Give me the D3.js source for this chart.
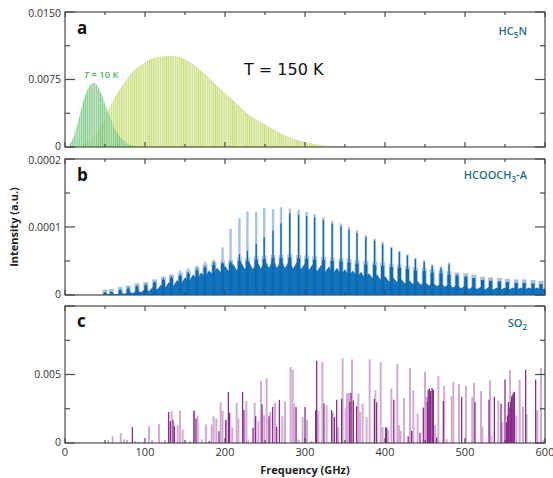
<!DOCTYPE html>
<html>
<head>
<meta charset="utf-8">
<script src="https://cdn.jsdelivr.net/npm/d3@7"></script>
<style>
body { margin: 0; background: #fff; }
text { font-family: "Open Sans", sans-serif; }
</style>
</head>
<body>
<div id="chart"></div>
<script>
// ---- data ----
// panel a: HC5N envelopes (intensity x 1e-3)
const hc150Freq = [20,30,40,50,60,70,80,90,100,110,120,130,140,150,160,170,180,190,200,210,220,230,240,250,260,270,280,290,300,310,320,330,340,350,360,370,380];
const hc150Val  = [0.2,0.7,1.7,3.3,5.1,6.6,7.9,8.8,9.4,9.85,10.05,10.15,10.05,9.75,9.2,8.5,7.7,6.8,6.0,5.2,4.4,3.6,3.0,2.5,2.0,1.5,1.1,0.8,0.55,0.35,0.22,0.14,0.08,0.04,0.02,0.01,0];
const hc10Freq = [5,10,15,20,25,30,35,40,45,50,55,60,65,70,75,80,85,90,95];
const hc10Val  = [0.2,1.0,2.4,4.1,5.7,6.7,7.15,6.9,6.0,4.8,3.6,2.5,1.6,1.0,0.6,0.3,0.15,0.06,0];

// panel b: HCOOCH3-A (intensity x 1e-6)
const baseFreq = [45,50,55,60,65,70,75,80,85,90,95,100,105,110,115,120,125,130,135,140,145,150,155,160,165,170,175,180,185,190,195,200,205,210,215,220,225,230,235,240,245,250,255,260,265,270,275,280,285,290,295,300,305,310,315,320,325,330,335,340,345,350,355,360,365,370,375,380,385,390,395,400,405,410,415,420,425,430,435,440,445,450,455,460,465,470,475,480,485,490,495,500,505,510,515,520,525,530,535,540,545,550,555,560,565,570,575,580,585,590,595,600];
const baseVal  = [0,1,1,2,1,3,2,5,3,7,
	4,9,6,12,8,15,11,19,13,22,
	16,26,20,30,23,33,27,36,30,40,
	33,43,35,46,36,48,38,49,38,50,
	39,51,40,52,40,51,40,50,39,49,
	38,47,37,46,35,44,34,42,32,40,
	30,38,29,36,27,34,25,32,24,30,
	22,28,20,26,19,24,17,22,16,21,
	15,19,14,18,13,17,12,16,11,15,
	10,14,9,13,9,12,8,12,8,11,
	8,11,8,11,8,11,8,11,8,11,
	8,10];
const combFreq    = [50,58,69,79,90,101,112,123,133,144,154,165,175,186,197,207,218,228,239,249,260,270,281,292,302,312,323,334,345,355,365,376,387,397,408,418,428,438,449,459,470,480,490,501,511,522,532,543,553,564,574,585,595];
const combPeak    = [4,6,9,12,17,18,22,26,30,36,39,43,49,52,70,97,113,123,122,128,126,129,127,125,122,119,114,109,105,100,95,88,83,78,71,65,60,55,51,45,42,48,32,29,24,21,20,18,18,17,18,18,18];
const combDark    = [3,5,8,11,14,16,20,24,28,30,34,39,43,49,48,50,60,65,75,85,95,105,120,118,116,114,110,105,101,96,91,85,80,75,69,63,58,53,49,43,40,45,30,27,22,19,18,16,16,15,16,16,16];
const combCluster = [3,4,7,9,12,14,18,22,25,28,31,36,40,44,46,47,50,50,52,53,54,54,55,54,53,52,51,50,49,48,46,45,44,43,41,40,38,36,35,33,32,30,28,27,25,22,21,20,19,18,18,17,16];

// panel c: SO2 (intensity x 1e-4)
const soLightFreq = [54,59.6,69.6,73.7,77.5,87.5,91.7,98,105,109,117.5,125,133.3,140.8,143.7,147,156,161.5,165.8,171,176,183.3,185.8,189.2,194.6,197,201,209,214.6,216.7,226.7,229,237,241.7,245,249,252,256.7,262.5,271.7,275,282,284.6,286.3,292,297,302.5,308,316.7,321.7,327,334.6,341.5,347,350.8,352.5,355,358.8,366.7,368.8,372,377,380.8,388,394.6,397,404,408,415.4,417.5,419.6,423.7,431.3,435.4,440.8,450,452.5,462.5,466.7,474,477,483.3,485.4,492.5,501.3,509,511.3,520,521.7,531.3,533,541.7,546.7,556.3,564,568.3,572.5,577,590.4,595,598];
const soLightVal  = [2,4.9,7.3,2.7,2.2,1.5,1,1,12.2,2.2,13.6,2.2,23.4,12.9,23.4,10,1.5,24,20,2.7,13.6,13.6,19.4,17.8,29.8,23.4,16.5,11.5,29.3,17.8,30.7,2,29.3,15.8,45.4,20.3,47.3,22.6,29.8,19.5,30.3,55.5,53.5,28.8,2.5,19,17,1.5,23.4,59.2,27.6,22,11.5,61.7,25.3,36.2,36.6,61,36.2,22.6,28.8,19,61,38.6,59.2,11.5,9.7,39.8,57.6,13,8.9,33,54.6,38.6,21.5,52,33.7,13,48.8,41.8,3,34.2,44.7,43,41.8,33.7,44.1,38,12,45.8,5,31,15.4,53.3,20,46.3,26.8,21,24,55,2];
const soDarkFreq  = [84.2,129.6,131.7,135,136.7,161.2,163.7,180.4,192.5,201,204.2,205.8,222,223.7,235,238.3,246.3,255,259.6,264.6,268,288.8,300,313.3,314.6,323.7,333.3,336.7,339.6,345.8,356,357.5,360.4,364.6,386.7,389.6,400.8,402,411,429,433.3,443.8,447.9,453,454,455.4,456,457,458.8,459.5,460.4,464.6,472.9,495.8,512.5,530,536.7,545,550,552,553,554.2,556,557,558.3,559,560.4,561.7,575.8,588.3];
const soDarkVal   = [11.7,22.6,16,17,12.2,23.4,17.8,1.5,8.5,17,37.3,22,37.3,24,11.2,19.5,28.3,19.5,26.3,12,31.5,26.3,26.3,24,60,28.8,24,19,31.5,32.2,30,36.6,31,26.8,32.2,29.8,11.5,11.2,31.5,5,8.9,7.4,26,30,38.6,39.8,36,38,40,39,38.6,4,30.7,33.7,29.8,31.5,33.7,28.8,46.3,15,20,29.8,26,30,33.7,35,36.6,37.3,53.5,46.3];

// axes
const xTicks = [0,100,200,300,400,500,600];
const xMinor = [50,150,250,350,450,550];
const panelA = { top: 12,  bottom: 147, max: 15,  ticks: [0,7.5,15],  minor: [3.75,11.25], labels: ["0","0.0075","0.0150"] };
const panelB = { top: 159, bottom: 295, max: 200, ticks: [0,100,200], minor: [50,150],     labels: ["0","0.0001","0.0002"] };
const panelC = { top: 306, bottom: 443, max: 100, ticks: [0,50,100],  minor: [25,75],      labels: ["0","0.005",""] };

const W = 553, H = 478;
const frameColor = "#4a4a4a";

const svg = d3.select('#chart').append('svg')
	.attr('width', W)
	.attr('height', H);

const x = d3.scaleLinear().domain([0,600]).range([65,545]);

function yFor(p){
	return d3.scaleLinear().domain([0,p.max]).range([p.bottom,p.top]);
}

// stick patterns for the HC5N line forests
const defs = svg.append('defs');
function stickPattern(id, bg, line){
	const pat = defs.append('pattern')
		.attr('id', id)
		.attr('patternUnits','userSpaceOnUse')
		.attr('width', 2.13)
		.attr('height', 4);
	pat.append('rect').attr('width',2.13).attr('height',4).attr('fill',bg);
	pat.append('rect').attr('width',0.9).attr('height',4).attr('fill',line);
}
stickPattern('hc150', '#e7f0c2', '#c8dd78');
stickPattern('hc10', '#badfbb', '#5cc06a');

// ---- panel a ----
const yA = yFor(panelA);
const areaA = d3.area()
	.x(d => x(d[0]))
	.y0(panelA.bottom)
	.y1(d => yA(d[1]))
	.curve(d3.curveMonotoneX);

svg.append('path')
	.datum(d3.zip(hc150Freq, hc150Val))
	.attr('d', areaA)
	.attr('fill', 'url(#hc150)');

svg.append('path')
	.datum(d3.zip(hc10Freq, hc10Val))
	.attr('d', areaA)
	.attr('fill', 'url(#hc10)')
	.attr('opacity', 0.8);

// ---- panel b ----
const yB = yFor(panelB);
const gB = svg.append('g');
const combs = combFreq.map((f,i) => ({f, peak: combPeak[i], dark: combDark[i], cl: combCluster[i]}));

function sticks(g, cls, data, val, color, width){
	g.selectAll('.' + cls)
		.data(data)
		.enter().append('line')
		.attr('class', cls)
		.attr('x1', d => x(d.f)).attr('x2', d => x(d.f))
		.attr('y1', panelB.bottom).attr('y2', d => yB(val(d)))
		.attr('stroke', color)
		.attr('stroke-width', width);
}

sticks(gB, 'peak-light', combs, d => d.peak, '#a6c3e6', 2.4);
sticks(gB, 'cluster-light', combs, d => d.cl + 5, '#a6c3e6', 5);

gB.append('path')
	.datum(d3.zip(baseFreq, baseVal))
	.attr('d', d3.area().x(d => x(d[0])).y0(panelB.bottom).y1(d => yB(d[1])))
	.attr('fill', '#1573bb');

sticks(gB, 'cluster', combs, d => d.cl, '#0c6cb5', 3.2);
sticks(gB, 'peak-dark', combs, d => d.dark, '#0a69b2', 1.3);

// ---- panel c ----
const yC = yFor(panelC);
const gC = svg.append('g');
gC.selectAll('.so-light')
	.data(d3.zip(soLightFreq, soLightVal))
	.enter().append('line')
	.attr('class','so-light')
	.attr('x1', d => x(d[0])).attr('x2', d => x(d[0]))
	.attr('y1', panelC.bottom).attr('y2', d => yC(d[1]))
	.attr('stroke', '#d4aad4')
	.attr('stroke-width', 2);

gC.selectAll('.so-dark')
	.data(d3.zip(soDarkFreq, soDarkVal))
	.enter().append('line')
	.attr('class','so-dark')
	.attr('x1', d => x(d[0])).attr('x2', d => x(d[0]))
	.attr('y1', panelC.bottom).attr('y2', d => yC(d[1]))
	.attr('stroke', '#8c2a8e')
	.attr('stroke-width', 1.3);

// ---- frames and ticks ----
function frame(p){
	const y = yFor(p);
	const g = svg.append('g');
	g.append('rect')
		.attr('x', x(0)).attr('y', p.top)
		.attr('width', x(600) - x(0)).attr('height', p.bottom - p.top)
		.attr('fill','none').attr('stroke', frameColor).attr('stroke-width', 1.2);

	const xt = xTicks.map(v => ({v, len: 5})).concat(xMinor.map(v => ({v, len: 3})));
	g.selectAll('.xt-top').data(xt).enter().append('line')
		.attr('x1', d => x(d.v)).attr('x2', d => x(d.v))
		.attr('y1', p.top).attr('y2', d => p.top + d.len);
	g.selectAll('.xt-bot').data(xt).enter().append('line')
		.attr('x1', d => x(d.v)).attr('x2', d => x(d.v))
		.attr('y1', p.bottom).attr('y2', d => p.bottom - d.len);

	const yt = p.ticks.map(v => ({v, len: 10})).concat(p.minor.map(v => ({v, len: 5})));
	g.selectAll('.yt-l').data(yt).enter().append('line')
		.attr('x1', x(0)).attr('x2', d => x(0) + d.len)
		.attr('y1', d => y(d.v)).attr('y2', d => y(d.v));
	g.selectAll('.yt-r').data(yt).enter().append('line')
		.attr('x1', x(600)).attr('x2', d => x(600) - d.len)
		.attr('y1', d => y(d.v)).attr('y2', d => y(d.v));
	g.selectAll('line').attr('stroke', frameColor).attr('stroke-width', 1.2);

	// nudge the end labels inward a little so neighbouring panels don't collide
	const last = p.ticks.length - 1;
	g.selectAll('.ylab').data(p.ticks).enter().append('text')
		.attr('x', 61)
		.attr('y', (d,i) => y(d) + (i === 0 ? -1 : i === last ? 1.5 : 0))
		.attr('dy', '0.35em')
		.attr('text-anchor','end')
		.attr('font-size', 10.5)
		.attr('fill', '#333')
		.text((d,i) => p.labels[i]);
}
[panelA, panelB, panelC].forEach(frame);

// x tick labels
svg.selectAll('.xlab').data(xTicks).enter().append('text')
	.attr('x', d => x(d))
	.attr('y', 456)
	.attr('text-anchor','middle')
	.attr('font-size', 11)
	.attr('fill', '#333')
	.text(d => d);

svg.append('text')
	.attr('x', 305).attr('y', 474)
	.attr('text-anchor','middle')
	.attr('font-size', 11).attr('font-weight', 700).attr('fill', '#222')
	.text('Frequency (GHz)');

svg.append('text')
	.attr('transform', 'translate(18,227) rotate(-90)')
	.attr('text-anchor','middle')
	.attr('font-size', 11).attr('font-weight', 700).attr('fill', '#222')
	.text('Intensity (a.u.)');

// panel letters
[['a',34],['b',181],['c',327]].forEach(([t,yy]) => {
	svg.append('text')
		.attr('x', 77).attr('y', yy)
		.attr('font-size', 17).attr('font-weight', 700).attr('fill', '#111')
		.text(t);
});

// molecule labels
const teal = '#1d6f80';
function molecule(yy, parts){
	const t = svg.append('text')
		.attr('x', 527).attr('y', yy)
		.attr('text-anchor','end')
		.attr('font-size', 11).attr('font-weight', 600).attr('fill', teal);
	parts.forEach(([s, sub], i) => {
		t.append('tspan')
			.attr('dy', sub ? 3 : (i > 0 ? -3 : 0))
			.attr('font-size', sub ? 8 : 11)
			.text(s);
	});
}
molecule(35, [['HC',0],['5',1],['N',0]]);
molecule(179, [['HCOOCH',0],['3',1],['-A',0]]);
molecule(327, [['SO',0],['2',1]]);

// temperature labels
svg.append('text')
	.attr('x', 244).attr('y', 75)
	.style('font-family', '"DejaVu Sans", sans-serif')
	.attr('font-size', 16).attr('fill', '#111')
	.text('T = 150 K');

const t10 = svg.append('text')
	.attr('x', 84).attr('y', 78)
	.attr('font-size', 9.5).attr('font-weight', 600).attr('fill', '#4cb860');
t10.append('tspan').attr('font-style','italic').text('T');
t10.append('tspan').text(' = 10 K');
</script>
</body>
</html>
